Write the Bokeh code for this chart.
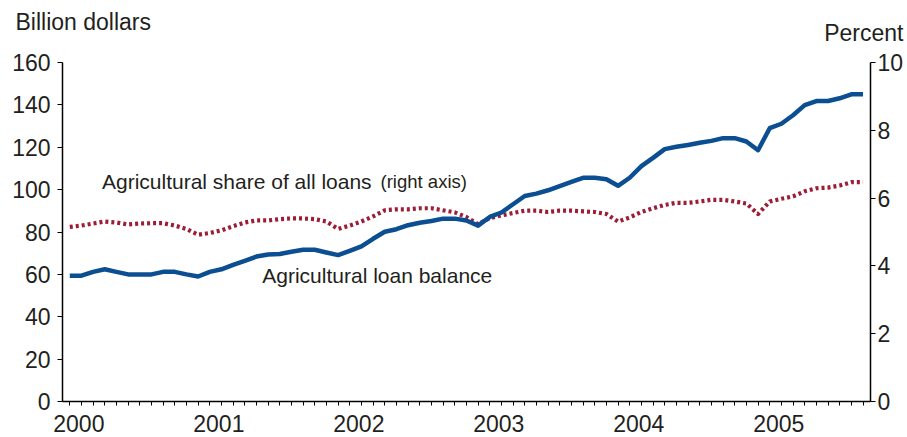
from bokeh.plotting import figure
from bokeh.models import Range1d, LinearAxis, FixedTicker, Label, Title
from bokeh.embed import file_html
from bokeh.resources import INLINE

# ---- data (monthly, Jan 2000 - Sep 2005) ----
start_year = 2000
loan_balance = [
    59.4, 59.4, 61.2, 62.4, 61.2, 60.0, 60.0, 60.0, 61.2, 61.2, 60.0, 59.0,
    61.2, 62.4, 64.5, 66.4, 68.4, 69.4, 69.6, 70.7, 71.6, 71.6, 70.3, 69.1,
    71.1, 73.2, 76.8, 80.1, 81.3, 83.2, 84.4, 85.2, 86.3, 86.3, 85.4, 83.0,
    87.1, 89.2, 93.1, 97.0, 98.1, 99.7, 101.7, 103.7, 105.6, 105.6, 104.9, 101.8,
    105.6, 111.1, 115.0, 119.1, 120.2, 121.1, 122.1, 123.0, 124.3, 124.3, 122.7, 118.6,
    129.0, 131.1, 135.1, 139.9, 141.8, 141.8, 143.1, 145.0, 145.0,
]
ag_share = [
    5.15, 5.19, 5.25, 5.31, 5.28, 5.22, 5.25, 5.26, 5.26, 5.19, 5.09, 4.92,
    4.97, 5.05, 5.17, 5.28, 5.34, 5.34, 5.38, 5.40, 5.40, 5.38, 5.31, 5.09,
    5.19, 5.31, 5.46, 5.64, 5.67, 5.67, 5.70, 5.70, 5.64, 5.58, 5.44, 5.23,
    5.41, 5.49, 5.56, 5.63, 5.63, 5.59, 5.63, 5.63, 5.61, 5.59, 5.53, 5.31,
    5.43, 5.59, 5.70, 5.80, 5.86, 5.86, 5.90, 5.95, 5.95, 5.90, 5.84, 5.53,
    5.90, 5.98, 6.05, 6.20, 6.29, 6.31, 6.37, 6.47, 6.47,
]
year_labels = ["2000", "2001", "2002", "2003", "2004", "2005"]
left_ticks = [0, 20, 40, 60, 80, 100, 120, 140, 160]
right_ticks = [0, 2, 4, 6, 8, 10]

months = [start_year + i / 12 for i in range(len(loan_balance))]

FONT = "Liberation Sans"
TXT = "#231f20"
BLUE = "#0b4f92"
RED = "#9d1c36"

X0, X1 = 1999.948, 2005.72

p = figure(
    frame_width=808, frame_height=339,
    min_border_left=62, min_border_right=37, min_border_top=62, min_border_bottom=36,
    x_range=Range1d(X0, X1), y_range=Range1d(0, 160),
    output_backend="svg", toolbar_location=None,
    x_axis_location=None, y_axis_location=None,
)
p.extra_y_ranges = {"pct": Range1d(0, 10)}
p.outline_line_color = None
p.xgrid.visible = False
p.ygrid.visible = False
p.background_fill_color = "white"
p.border_fill_color = "white"

def style_axis(ax, size="23px"):
    ax.axis_line_color = "black"
    ax.axis_line_width = 1.5
    ax.major_tick_line_color = "black"
    ax.major_tick_line_width = 1.2
    ax.major_tick_in = 0
    ax.major_tick_out = 5
    ax.minor_tick_line_color = None
    ax.major_label_text_font = FONT
    ax.major_label_text_font_size = size
    ax.major_label_text_color = TXT

# left axis
ly = LinearAxis(ticker=FixedTicker(ticks=left_ticks))
style_axis(ly)
ly.major_label_standoff = 7
p.add_layout(ly, "left")

# right axis
ry = LinearAxis(y_range_name="pct", ticker=FixedTicker(ticks=right_ticks))
style_axis(ry)
ry.major_label_standoff = 2
p.add_layout(ry, "right")

# bottom axis: monthly ticks, year labels
xt = FixedTicker(
    ticks=[int(y) + 0.065 for y in year_labels],
    minor_ticks=months,
)
xa = LinearAxis(ticker=xt)
style_axis(xa)
xa.major_tick_out = 4
xa.major_tick_line_color = None
xa.minor_tick_line_color = "black"
xa.minor_tick_line_width = 1
xa.minor_tick_in = 0
xa.minor_tick_out = 4
xa.major_label_standoff = 9
xa.major_label_text_line_height = 0.75
xa.major_label_overrides = {int(y) + 0.065: y for y in year_labels}
p.add_layout(xa, "below")

# series
p.line(months, ag_share, y_range_name="pct", line_color=RED, line_width=4.2,
       line_dash="3 3", line_cap="butt", line_join="round")
p.line(months, loan_balance, line_color=BLUE, line_width=4.5, line_join="round")

# text labels
p.add_layout(Label(x=2000.23, y=103.7, text="Agricultural share of all loans",
                   text_font=FONT, text_font_size="21px", text_color=TXT,
                   text_baseline="alphabetic"))
p.add_layout(Label(x=2002.22, y=103.7, text="(right axis)",
                   text_font=FONT, text_font_size="18.5px", text_color=TXT,
                   text_baseline="alphabetic"))
p.add_layout(Label(x=2001.375, y=59.3, text="Agricultural loan balance",
                   text_font=FONT, text_font_size="21px", text_color=TXT,
                   text_baseline="alphabetic"))

# axis unit titles above the frame
p.add_layout(Title(text="Percent", align="right", offset=-33, standoff=34,
                   text_font=FONT, text_font_size="23px", text_font_style="normal",
                   text_color=TXT), "above")
p.add_layout(Title(text="Billion dollars", align="left", offset=-47, standoff=-68,
                   text_font=FONT, text_font_size="23px", text_font_style="normal",
                   text_color=TXT), "above")

open("out.html", "w").write(file_html(p, INLINE))
